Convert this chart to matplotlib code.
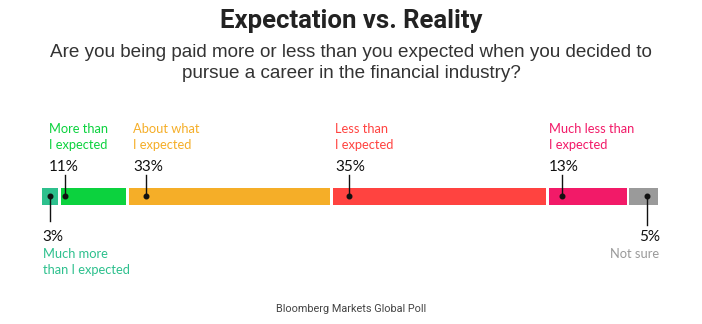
import matplotlib
matplotlib.use("Agg")
import matplotlib.pyplot as plt

# ---- data ----
categories = ["Much more\nthan I expected", "More than\nI expected", "About what\nI expected",
              "Less than\nI expected", "Much less than\nI expected", "Not sure"]
values = [3, 11, 33, 35, 13, 5]
colors = ["#2dc08d", "#0cd23e", "#f5ae28", "#ff4340", "#f21a68", "#9a9a9a"]
label_pos = ["bottom", "top", "top", "top", "top", "bottom_right"]

title = "Expectation vs. Reality"
subtitle = "Are you being paid more or less than you expected when you decided to\npursue a career in the financial industry?"
source = "Bloomberg Markets Global Poll"

# ---- layout (pixel-ish units, y top-down) ----
W, H = 702, 324
fig = plt.figure(figsize=(W / 100, H / 100), dpi=100)
fig.patch.set_facecolor("white")

x0_px, x1_px = 41, 659
ax = fig.add_axes([x0_px / W, 0, (x1_px - x0_px) / W, 1])
ax.set_xlim(0, 100)
ax.set_ylim(H, 0)
ax.axis("off")

bar_top, bar_h = 188, 17
gap = 0.45
dot_off = [None, 0.9, 3.0, 2.8, 2.3, 0.55]
text_off = [0.3, -1.7, 0.9, 0.6, 0.2, None]

label_font = "Lato"
lab_fs = 9.3
pct_fs = 11
starts = []
s = 0
for v in values:
    starts.append(s)
    s += v

dot_y = 196
for i, (cat, v, c, pos) in enumerate(zip(categories, values, colors, label_pos)):
    st = starts[i]
    ax.barh(bar_top + bar_h / 2, v - gap, left=st + gap / 2, height=bar_h,
            color=c, edgecolor="none")
    if dot_off[i] is None:
        dx = st + v / 2
    elif pos == "bottom_right":
        dx = st + v / 2 + dot_off[i]
    else:
        dx = st + dot_off[i]
    ax.plot([dx], [dot_y], marker="o", ms=3.3, color="#111111", zorder=5)
    if pos == "top":
        ax.plot([dx, dx], [dot_y, 175], color="#111111", lw=1.0, zorder=4)
        tx = st + text_off[i]
        ax.text(tx, 171, f"{v}%", fontsize=pct_fs, color="#111111", family=label_font,
                ha="left", va="baseline")
        ax.text(tx, 149, cat, fontsize=lab_fs, color=c, family=label_font,
                ha="left", va="baseline", linespacing=1.4)
    elif pos == "bottom":
        ax.plot([dx, dx], [dot_y, 221], color="#111111", lw=1.0, zorder=4)
        tx = st + text_off[i]
        ax.text(tx, 241, f"{v}%", fontsize=pct_fs, color="#111111", family=label_font,
                ha="left", va="baseline")
        ax.text(tx, 274, cat, fontsize=lab_fs, color=c, family=label_font,
                ha="left", va="baseline", linespacing=1.4)
    else:
        ax.plot([dx, dx], [dot_y, 225], color="#111111", lw=1.0, zorder=4)
        ax.text(100.1, 241, f"{v}%", fontsize=pct_fs, color="#111111", family=label_font,
                ha="right", va="baseline")
        ax.text(100.1, 258, cat, fontsize=lab_fs, color=c, family=label_font,
                ha="right", va="baseline", linespacing=1.4)

fig.text(0.5, 1 - 28 / H, title, fontsize=18.5, fontweight="bold", color="#222222",
         family="Roboto", ha="center", va="baseline")
fig.text(0.5, 1 - 78 / H, subtitle, fontsize=13.6, color="#333333",
         family="Liberation Sans", ha="center", va="baseline", linespacing=1.3,
         multialignment="center")
fig.text(0.5, 1 - 312 / H, source, fontsize=7.8, color="#444444",
         family="Roboto", ha="center", va="baseline")

fig.savefig("out.png", dpi=100, facecolor="white")
